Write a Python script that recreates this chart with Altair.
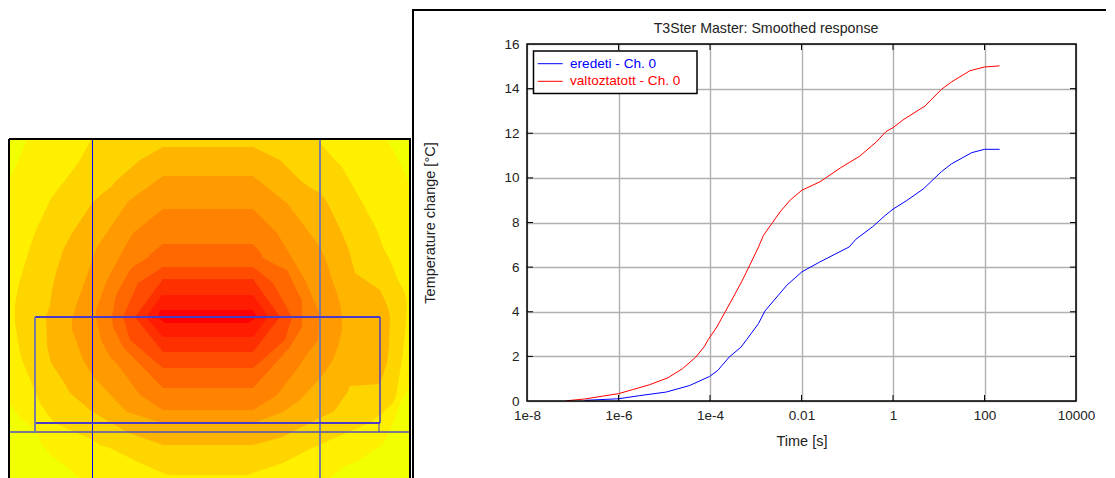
import altair as alt
import pandas as pd

FONT = "Liberation Sans"
TXT = "#222222"

# ---- right panel data: response curves (exponent of time in s, temperature change)
BLUE_LOGT = [-6.74,-6.0,-5.54,-4.96,-4.45,-4.01,-3.83,-3.58,-3.32,-3.2,-2.94,-2.8,-2.54,-2.32,-1.99,-1.6,-1.25,-0.96,-0.81,-0.44,-0.18,0.0,0.29,0.66,1.06,1.28,1.72,2.0,2.33]
BLUE_VAL = [0.03,0.1,0.24,0.4,0.69,1.1,1.37,1.97,2.42,2.75,3.47,4.03,4.66,5.19,5.79,6.23,6.6,6.9,7.25,7.82,8.3,8.6,8.97,9.5,10.28,10.63,11.13,11.28,11.28]
RED_LOGT = [-7.14,-6.74,-6.34,-6.0,-5.69,-5.32,-4.92,-4.6,-4.31,-4.12,-4.04,-3.85,-3.67,-3.49,-3.31,-3.13,-2.94,-2.83,-2.65,-2.47,-2.25,-1.99,-1.6,-1.47,-1.14,-0.73,-0.37,-0.15,0.0,0.22,0.7,1.06,1.28,1.68,2.0,2.33]
RED_VAL = [0.01,0.09,0.22,0.33,0.51,0.73,1.04,1.45,1.97,2.45,2.75,3.32,3.99,4.66,5.34,6.09,6.9,7.43,7.95,8.47,9.0,9.45,9.82,10.0,10.46,10.97,11.6,12.08,12.25,12.6,13.22,13.97,14.3,14.8,14.97,15.02]
X_TICKS = [1e-8,1e-6,1e-4,0.01,1,100,10000]
X_LABELS = ["1e-8","1e-6","1e-4","0.01","1","100","10000"]
Y_TICKS = [0,2,4,6,8,10,12,14,16]
SERIES = ["eredeti - Ch. 0","valtoztatott - Ch. 0"]
COLORS = ["#0000ff","#ff0000"]
TITLE = ["T3Ster Master: Smoothed response"]
X_TITLE = "Time [s]"
Y_TITLE = "Temperature change [°C]"

# ---- left panel data: contour bands, image rows (row, left edge, right edge)
BG = "#f2ff00"
L1 = [(139,27,387),(157,20,397),(180,9,408),(195,9,410),(386,9,410),(403,9,400),(418,20,395),(431,36,390),(445,42,382),(456,52,365),(462,60,357),(466,65,345),(478,80,330)]
L2 = [(139,92,318),(145,88,322),(160,80,335),(167,75,342),(193,55,357),(200,50,361),(230,36,377),(247,30,383),(260,26,390),(280,20,398),(293,17,405),(305,15,407),(323,15,406),(353,20,403),(360,22,402),(396,37,396),(403,40,393),(415,48,380),(423,55,370),(430,70,353),(440,93,330),(445,100,320),(448,110,312),(463,140,283),(473,163,253),(475,170,248)]
L3 = [(147,163,253),(160,140,280),(180,117,300),(187,111,309),(193,103,320),(202,93,327),(233,72,342),(250,63,349),(273,56,355),(290,52,380),(305,50,387),(317,46,390),(345,47,389),(363,51,387),(384,65,380),(386,66,350),(393,70,347),(410,90,335),(412,93,333),(418,103,320),(432,127,292),(437,140,283),(445,163,253)]
L4 = [(176,163,253),(200,130,283),(203,127,287),(247,97,320),(258,93,325),(303,77,340),(320,72,342),(330,72,342),(343,77,339),(360,83,333),(376,93,322),(378,95,320),(400,115,300),(412,127,283),(423,163,253)]
L5 = [(209,163,253),(233,133,277),(243,127,283),(280,107,305),(310,96,318),(317,96,320),(340,101,318),(357,110,305),(365,118,300),(395,140,277),(410,163,253)]
L6 = [(244,163,253),(252,153,260),(258,147,263),(267,133,280),(270,130,287),(293,117,298),(300,115,302),(317,112,302),(327,113,302),(347,123,290),(388,163,253)]
L7 = [(267,163,253),(283,138,273),(317,123,292),(340,130,285),(368,163,253)]
L8 = [(279,163,253),(317,135,280),(352,163,253)]
L9 = [(295,162,253),(317,146,268),(337,163,253)]
L10 = [(310,160,253),(317,158,257),(323,165,248)]
LEVELS = [L1,L2,L3,L4,L5,L6,L7,L8,L9,L10]
LEVEL_COLORS = ["#fff000","#ffd500","#ffb400","#ff9a00","#ff8200","#ff6800","#ff4c00","#ff3000","#ff1c00","#ff0000"]

# overlay outlines: (x, x2, y, y2, colour, width)
OVERLAYS = [
    (92.5,92.5,139,478,"#0000ff",1),
    (320,320,139,478,"#7c7ca0",2),
    (9,410,432,432,"#5050b8",1.5),
    (35,380,317,317,"#4a3cc4",1.8),
    (35,380,423,423,"#4a3cc4",1.8),
    (35,35,317,432,"#7c7ca0",2),
    (380,380,317,423,"#4a3cc4",1.5),
    (379,379,423,432,"#4a3cc4",1),
    (9,9,139,478,"#000000",2),
    (9,411,139,139,"#000000",2),
    (410,410,139,478,"#000000",2),
]

# ---- left panel
sx = alt.Scale(domain=[9,411], nice=False, zero=False)
sy = alt.Scale(domain=[478,44], nice=False, zero=False)
dummy = pd.DataFrame({"a":[0]})
left_layers = [
    alt.Chart(pd.DataFrame({"y":[139,478],"x":[9,9],"x2":[410,410]})).mark_area(orient="horizontal", color=BG).encode(
        y=alt.Y("y:Q", scale=sy, axis=None), x=alt.X("x:Q", scale=sx, axis=None), x2="x2:Q")
]
for lev, col in zip(LEVELS, LEVEL_COLORS):
    df = pd.DataFrame(lev, columns=["y","x","x2"])
    left_layers.append(alt.Chart(df).mark_area(orient="horizontal", color=col).encode(
        y=alt.Y("y:Q", scale=sy, axis=None), x=alt.X("x:Q", scale=sx, axis=None), x2="x2:Q"))
for (a,b,c,d,col,w) in OVERLAYS:
    df = pd.DataFrame({"x":[a],"x2":[b],"y":[c],"y2":[d]})
    left_layers.append(alt.Chart(df).mark_rule(color=col, strokeWidth=w).encode(
        x=alt.X("x:Q", scale=sx, axis=None), x2="x2:Q",
        y=alt.Y("y:Q", scale=sy, axis=None), y2="y2:Q"))
left = alt.layer(*left_layers).properties(width=402, height=434)

# ---- right panel
W, H = 549, 357
FS = 13.5
TFS = 14.5
scx = alt.Scale(type="log", base=10, domain=[1e-8,1e4], nice=False)
scy = alt.Scale(domain=[0,16], nice=False, zero=False)
labels_js = "[" + ",".join(f"'{s}'" for s in X_LABELS) + "]"
x_axis = alt.Axis(values=X_TICKS, labelExpr=f"{labels_js}[round(log(datum.value)/LN10)/2+4]", title=X_TITLE,
                  grid=True, gridColor="#b0b0b0", gridWidth=1.4, domain=False, ticks=False,
                  labelPadding=7, titlePadding=13, labelFontSize=FS, titleFontSize=TFS,
                  labelFont=FONT, titleFont=FONT, labelColor=TXT, titleColor=TXT, titleFontWeight="normal",
                  labelFlush=False, labelOverlap=False)
y_axis = alt.Axis(values=Y_TICKS, title=Y_TITLE,
                  grid=True, gridColor="#b0b0b0", gridWidth=1.4, domain=False, ticks=False,
                  labelPadding=8, titlePadding=66, labelFontSize=FS, titleFontSize=TFS,
                  labelFont=FONT, titleFont=FONT, labelColor=TXT, titleColor=TXT, titleFontWeight="normal",
                  labelOverlap=False)

rows = []
for name, lx, ly in zip(SERIES, [BLUE_LOGT, RED_LOGT], [BLUE_VAL, RED_VAL]):
    for a, b in zip(lx, ly):
        rows.append({"t":10.0**a, "v":b, "s":name})
curves = pd.DataFrame(rows)

line_layer = alt.Chart(curves).mark_line(strokeWidth=1, clip=True).encode(
    x=alt.X("t:Q", scale=scx, axis=x_axis),
    y=alt.Y("v:Q", scale=scy, axis=y_axis),
    color=alt.Color("s:N", scale=alt.Scale(domain=SERIES, range=COLORS), legend=None),
)
xt = pd.DataFrame({"t":X_TICKS[1:-1]})
yt = pd.DataFrame({"v":Y_TICKS[1:-1]})
tick_layers = []
for y0, y1 in [(0,6),(H-6,H)]:
    tick_layers.append(alt.Chart(xt).mark_rule(color="#000000", strokeWidth=1).encode(
        x=alt.X("t:Q", scale=scx, axis=x_axis), y=alt.value(y0), y2=alt.value(y1)))
for x0, x1 in [(0,6),(W-6,W)]:
    tick_layers.append(alt.Chart(yt).mark_rule(color="#000000", strokeWidth=1).encode(
        y=alt.Y("v:Q", scale=scy, axis=y_axis), x=alt.value(x0), x2=alt.value(x1)))

def box(x0,x1,y0,y1,stroke="#000000",sw=1.5,fill=None):
    kw = dict(stroke=stroke, strokeWidth=sw)
    if fill: kw["fill"]=fill
    else: kw["fillOpacity"]=0
    return alt.Chart(dummy).mark_rect(**kw).encode(x=alt.value(x0),x2=alt.value(x1),y=alt.value(y0),y2=alt.value(y1))

def hline(x0,x1,y,col,sw=1):
    return alt.Chart(dummy).mark_rule(color=col,strokeWidth=sw).encode(x=alt.value(x0),x2=alt.value(x1),y=alt.value(y))
def vline(x,y0,y1,col,sw=1):
    return alt.Chart(dummy).mark_rule(color=col,strokeWidth=sw).encode(x=alt.value(x),y=alt.value(y0),y2=alt.value(y1))

legend_layers = [box(6.5,170,7,49.5,fill="#ffffff")]
for name, col, yy in zip(SERIES, COLORS, [19.7,37.3]):
    legend_layers.append(hline(10.7,35.7,yy,col))
    legend_layers.append(alt.Chart(pd.DataFrame({"s":[name]})).mark_text(
        align="left", baseline="middle", font=FONT, fontSize=13.6, color=col).encode(
        x=alt.value(43), y=alt.value(yy), text="s:N"))

frame_layers = [vline(-114,-34,434,"#000000",2), hline(-115,579,-34,"#000000",2)]

title_layer = alt.Chart(pd.DataFrame({"s":TITLE})).mark_text(
    align="center", baseline="middle", font=FONT, fontSize=14.2, color=TXT).encode(
    x=alt.value(239), y=alt.value(-15), text="s:N")

right = alt.layer(
    line_layer, *tick_layers, box(0,W,0,H), *legend_layers, *frame_layers, title_layer
).properties(width=W, height=H)

chart = alt.hconcat(left, right, spacing=-1).properties(
    padding={"left":0,"top":1,"right":0,"bottom":0}
).configure_view(stroke="transparent", strokeWidth=0)
chart.save("out.html", embed_options={"renderer":"svg","actions":False})
